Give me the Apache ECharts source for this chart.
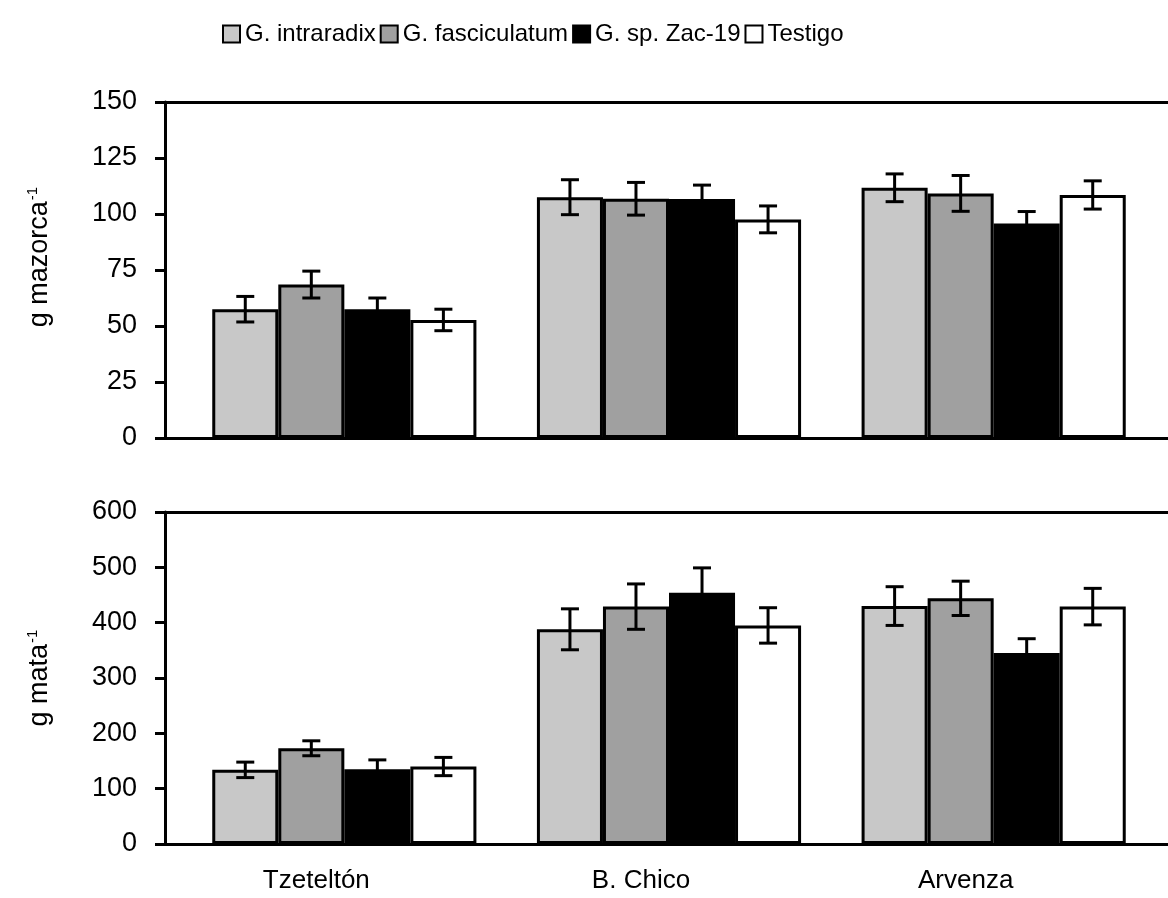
<!DOCTYPE html>
<html>
<head>
<meta charset="utf-8">
<title>Rendimiento por localidad</title>
<script src="https://cdn.jsdelivr.net/npm/echarts@6/dist/echarts.min.js"></script>
<style>
  html, body { margin: 0; padding: 0; background: #ffffff; }
  #chart { width: 1168px; height: 898px; }
</style>
</head>
<body>
<div id="chart"></div>
<script>
// Localities and treatments
const categories = ['Tzeteltón', 'B. Chico', 'Arvenza'];
const seriesNames = ['G. intraradix', 'G. fasciculatum', 'G. sp. Zac-19', 'Testigo'];

// g mazorca^-1 (means and standard errors per treatment)
const mazorcaIntraradix = [57.5, 107.5, 111.7];
const mazorcaFasciculatum = [68.5, 106.8, 109.2];
const mazorcaZac19 = [57.5, 106.7, 95.8];
const mazorcaTestigo = [52.7, 97.6, 108.5];
const mazorcaErrIntraradix = [5.7, 7.8, 6.2];
const mazorcaErrFasciculatum = [6.0, 7.3, 8.0];
const mazorcaErrZac19 = [5.0, 6.2, 5.3];
const mazorcaErrTestigo = [4.8, 6.0, 6.3];

// g mata^-1 (means and standard errors per treatment)
const mataIntraradix = [134, 388, 430];
const mataFasciculatum = [173, 429, 444];
const mataZac19 = [135, 454, 345];
const mataTestigo = [140, 395, 429];
const mataErrIntraradix = [14, 37, 35];
const mataErrFasciculatum = [13.5, 41, 31];
const mataErrZac19 = [17, 45, 26];
const mataErrTestigo = [16.5, 32, 33];

// Axis ticks
const mazorcaTicks = { min: 0, max: 150, interval: 25 };
const mataTicks = { min: 0, max: 600, interval: 100 };

const FONT = "'Liberation Sans', Arial, sans-serif";
const fills = ['#c8c8c8', '#a0a0a0', '#000000', '#ffffff'];
const BAR_FRAC = 0.2034;   // bar width as a share of one category band

const chart = echarts.init(document.getElementById('chart'), null, { renderer: 'canvas' });

function barSeries(values, k, axisIdx) {
  return {
    type: 'bar',
    name: seriesNames[k],
    xAxisIndex: axisIdx.x,
    yAxisIndex: axisIdx.y,
    data: values,
    barWidth: (BAR_FRAC * 100) + '%',
    barGap: '0%',
    itemStyle: { color: fills[k], borderColor: '#000', borderWidth: 3 },
    emphasis: { disabled: true },
    z: 2
  };
}

function errorSeries(meanSets, errSets, axisIdx) {
  const rows = [];
  meanSets.forEach((means, k) => {
    means.forEach((m, ci) => rows.push([ci, m, errSets[k][ci], k]));
  });
  return {
    type: 'custom',
    xAxisIndex: axisIdx.x,
    yAxisIndex: axisIdx.y,
    data: rows,
    encode: { x: 0, y: 1 },
    z: 5,
    silent: true,
    renderItem: function (params, api) {
      const ci = api.value(0), m = api.value(1), e = api.value(2), k = api.value(3);
      const band = api.size([1, 0])[0];
      const bw = band * BAR_FRAC;
      const cx = api.coord([ci, m])[0] + (k - 1.5) * bw;
      const yTop = api.coord([ci, m + e])[1];
      const yBot = api.coord([ci, m - e])[1];
      const cap = 9;
      const style = { stroke: '#000', lineWidth: 3, fill: null };
      return {
        type: 'group',
        children: [
          { type: 'line', shape: { x1: cx, y1: yTop, x2: cx, y2: yBot }, style: style },
          { type: 'line', shape: { x1: cx - cap, y1: yTop, x2: cx + cap, y2: yTop }, style: style },
          { type: 'line', shape: { x1: cx - cap, y1: yBot, x2: cx + cap, y2: yBot }, style: style }
        ]
      };
    }
  };
}

const lineStyle = { color: '#000', width: 3 };

function dataX(gridIndex, showLabels) {
  return {
    type: 'category', gridIndex: gridIndex, data: categories,
    axisLine: { show: false }, axisTick: { show: false },
    axisLabel: {
      show: showLabels, margin: 24,
      // locality names sit a little left of their bar group
      formatter: function (v) { return '{c|' + v + '}'; },
      rich: { c: { color: '#000', fontFamily: FONT, fontSize: 26, padding: [0, 56, 0, 0] } }
    },
    splitLine: { show: false }
  };
}
function frameX(gridIndex, position) {
  return {
    type: 'value', gridIndex: gridIndex, position: position, min: 0, max: 1,
    axisLine: { show: true, onZero: false, lineStyle: lineStyle },
    axisTick: { show: false }, axisLabel: { show: false }, splitLine: { show: false }
  };
}
function dataY(gridIndex, ticks) {
  return { type: 'value', gridIndex: gridIndex, min: ticks.min, max: ticks.max, interval: ticks.interval, show: false, splitLine: { show: false } };
}
function frameY(gridIndex, ticks, name, namePadding) {
  return {
    type: 'value', gridIndex: gridIndex, min: ticks.min, max: ticks.max, interval: ticks.interval,
    name: name, nameLocation: 'middle', nameGap: 110, nameRotate: 90,
    nameTextStyle: {
      color: '#000', fontFamily: FONT, fontSize: 27, padding: namePadding,
      rich: { sup: { fontFamily: FONT, fontSize: 15, color: '#000', verticalAlign: 'top', lineHeight: 30, padding: [0, 0, 0, 1] } }
    },
    axisLine: { show: true, onZero: false, lineStyle: lineStyle },
    axisTick: { show: true, inside: false, length: 10, lineStyle: lineStyle },
    axisLabel: { color: '#000', fontFamily: FONT, fontSize: 27, margin: 28 },
    splitLine: { show: false }
  };
}

const topAxes = { x: 0, y: 0 };
const bottomAxes = { x: 3, y: 2 };

const option = {
  backgroundColor: '#ffffff',
  animation: false,
  textStyle: { fontFamily: FONT },
  legend: {
    data: seriesNames,
    left: 217, top: 17,
    itemWidth: 17, itemHeight: 17, itemGap: 4,
    icon: 'rect',
    itemStyle: { borderColor: '#000', borderWidth: 2 },
    textStyle: { color: '#000', fontFamily: FONT, fontSize: 24 },
    selectedMode: false
  },
  grid: [
    { left: 182, right: 12, top: 102, bottom: 460 },   // top panel, bars
    { left: 165, right: 0, top: 102, bottom: 460 },    // top panel, frame
    { left: 182, right: 12, top: 512, bottom: 54 },    // bottom panel, bars
    { left: 165, right: 0, top: 512, bottom: 54 }      // bottom panel, frame
  ],
  xAxis: [
    dataX(0, false),
    frameX(1, 'bottom'),
    frameX(1, 'top'),
    dataX(2, true),
    frameX(3, 'bottom'),
    frameX(3, 'top')
  ],
  yAxis: [
    dataY(0, mazorcaTicks),
    frameY(1, mazorcaTicks, 'g mazorca{sup|-1}', [0, 0, 0, 26]),
    dataY(2, mataTicks),
    frameY(3, mataTicks, 'g mata{sup|-1}', [0, 0, 0, 0])
  ],
  series: [
    barSeries(mazorcaIntraradix, 0, topAxes),
    barSeries(mazorcaFasciculatum, 1, topAxes),
    barSeries(mazorcaZac19, 2, topAxes),
    barSeries(mazorcaTestigo, 3, topAxes),
    errorSeries([mazorcaIntraradix, mazorcaFasciculatum, mazorcaZac19, mazorcaTestigo],
                [mazorcaErrIntraradix, mazorcaErrFasciculatum, mazorcaErrZac19, mazorcaErrTestigo], topAxes),
    barSeries(mataIntraradix, 0, bottomAxes),
    barSeries(mataFasciculatum, 1, bottomAxes),
    barSeries(mataZac19, 2, bottomAxes),
    barSeries(mataTestigo, 3, bottomAxes),
    errorSeries([mataIntraradix, mataFasciculatum, mataZac19, mataTestigo],
                [mataErrIntraradix, mataErrFasciculatum, mataErrZac19, mataErrTestigo], bottomAxes)
  ]
};

chart.setOption(option);
</script>
</body>
</html>
